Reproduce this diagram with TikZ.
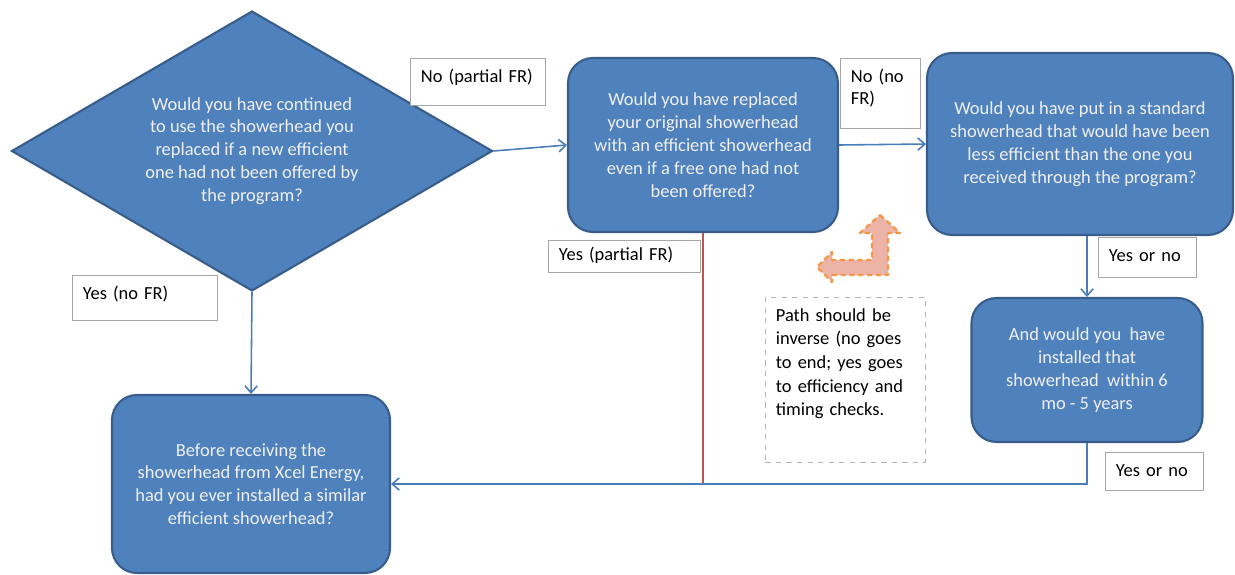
\documentclass[tikz,border=0pt]{standalone}
\usepackage{fontspec}
\setmainfont{Carlito}
\usetikzlibrary{arrows.meta,shapes.geometric}
\definecolor{qfill}{RGB}{79,129,189}
\definecolor{qline}{RGB}{56,93,138}
\definecolor{conn}{RGB}{74,126,187}
\definecolor{redconn}{RGB}{185,85,82}
\definecolor{hintfill}{RGB}{236,180,166}
\definecolor{hintline}{RGB}{247,150,70}

\begin{document}
\begin{tikzpicture}[x=0.02cm, y=-0.02cm,
  q/.style={draw=qline, line width=1.2pt, fill=qfill, text=white!94!black, font=\fontsize{10.5}{13}\selectfont, align=center},
  qbox/.style={q, rectangle, rounded corners=0.5cm},
  lbl/.style={draw=black!35, fill=white, anchor=north west, align=left, font=\fontsize{10.5}{13}\selectfont, inner xsep=6pt, inner ysep=5pt, text height=8.5pt},
  arrow/.style={-{Straight Barb[length=4pt,width=7pt]}, conn, line width=0.9pt}
]
\useasboundingbox (0,0) rectangle (1235,575);
% questions
\node[q, diamond, aspect=1.73, minimum width=9.62cm, minimum height=5.6cm, inner sep=0pt] (q1) at (252,151)
  {Would you have continued\\to use the showerhead you\\replaced if a new efficient\\one had not been offered by\\the program?};
\node[qbox, minimum width=5.4cm, minimum height=3.48cm] (q2) at (703,145)
  {Would you have replaced\\your original showerhead\\with an efficient showerhead\\even if a free one had not\\been offered?};
\node[qbox, minimum width=6.12cm, minimum height=3.64cm] (q3) at (1080,144)
  {Would you have put in a standard\\showerhead that would have been\\less efficient than the one you\\received through the program?};
\node[qbox, minimum width=4.62cm, minimum height=2.88cm] (q4) at (1087,370)
  {And would you\ \ have\\installed that\\showerhead\ \ within 6\\mo - 5 years};
\node[qbox, minimum width=5.56cm, minimum height=3.56cm] (q5) at (251,484)
  {Before receiving the\\showerhead from Xcel Energy,\\had you ever installed a similar\\efficient showerhead?};
% connectors
\draw[arrow] (q1.east) -- (q2.west);
\draw[arrow] (q2.east) -- (q3.west);
\draw[arrow] (q4.north |- q3.south) -- (q4.north);
\draw[arrow] (q1.south) -- (q5.north);
\draw[redconn, line width=0.9pt] (q2.south) -- (q2.south |- q5.east);
\draw[arrow] (q4.south) |- (q5.east);
% answer labels
\node[lbl, text width=2.28cm, text depth=8.1pt] (nopart) at (410,58) {No (partial FR)};
\node[lbl, text width=1.18cm, text depth=21.2pt] (nonofr) at (840,58) {No (no\\FR)};
\node[lbl, text width=1.54cm, text depth=4.2pt] (yesor1) at (1098,237) {Yes or no};
\node[lbl, text width=1.54cm, text depth=3pt] (yesor2) at (1105,452) {Yes or no};
\node[lbl, text width=2.48cm, text depth=7pt] (yesnofr) at (72,275) {Yes (no FR)};
\node[lbl, text width=2.62cm, inner ysep=3pt, text depth=3.6pt] (yespart) at (548,240) {Yes (partial FR)};
% review note
\node[lbl, draw=black!30, dashed, text width=2.78cm, text depth=75.5pt, font=\fontsize{10.5}{13.5}\selectfont] (note) at (765,297)
  {Path should be\\inverse (no goes\\to end; yes goes\\to efficiency and\\timing checks.};
\draw[hintline, fill=hintfill, dash pattern=on 3pt off 2pt, line width=1.3pt, line join=round]
  (880,215) -- (900,233) -- (888,233) -- (888,275) -- (832,275) -- (832,282) -- (817,267)
  -- (832,252) -- (832,260) -- (872,260) -- (872,233) -- (860,233) -- cycle;
\end{tikzpicture}
\end{document}
